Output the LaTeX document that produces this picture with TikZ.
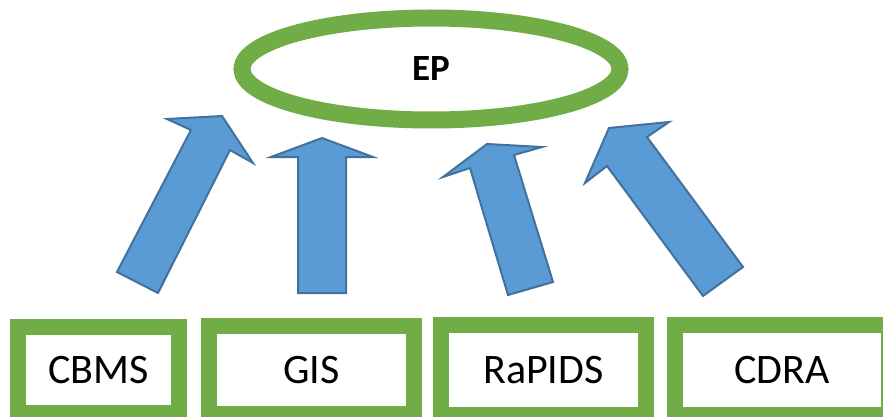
\documentclass[tikz,border=0pt]{standalone}
\usepackage{fontspec}
\setmainfont{Carlito}
\usetikzlibrary{shapes.geometric}
\definecolor{grn}{HTML}{70AD47}
\definecolor{blufill}{HTML}{5B9BD5}
\definecolor{bluline}{HTML}{41719C}
\begin{document}
\begin{tikzpicture}[x=1pt,y=-1pt,
  sysbox/.style={draw=grn,line width=16pt,fill=white,rectangle,inner sep=0pt,font=\fontsize{42}{46}\selectfont},
  blockarrow/.style={fill=blufill,draw=bluline,line width=2pt,line join=miter}]
\useasboundingbox (0,0) rectangle (883,417);
\fill[white] (0,0) rectangle (883,417);
% EP ellipse
\node[ellipse,draw=grn,line width=17pt,minimum width=378pt,minimum height=102pt,inner sep=0pt,font=\bfseries\fontsize{37}{40}\selectfont] (ep) at (431,69) {EP};
% boxes
\node[sysbox,minimum width=161pt,minimum height=86pt] (cbms) at (98.5,370) {CBMS};
\node[sysbox,minimum width=205pt,minimum height=88pt] (gis) at (311.5,370) {GIS};
\node[sysbox,minimum width=205pt,minimum height=90pt] (rapids) at (543.5,370) {RaPIDS};
\node[sysbox,minimum width=214pt,minimum height=90pt] (cdra) at (782,370) {CDRA};
% block arrows
\draw[blockarrow] (117,272) -- (158,293) -- (230,150) -- (253,163) -- (222,116) -- (167,119) -- (191,130) -- cycle;
\draw[blockarrow] (298,293) -- (346,293) -- (346,157) -- (373,157) -- (322,138) -- (271,157) -- (298,157) -- cycle;
\draw[blockarrow] (508,295) -- (553,282) -- (514,155) -- (542,147) -- (487,144) -- (443,177) -- (470,168) -- cycle;
\draw[blockarrow] (703,296) -- (743,267) -- (647,137) -- (669,122) -- (609,128) -- (585,183) -- (607,166) -- cycle;
\end{tikzpicture}
\end{document}
